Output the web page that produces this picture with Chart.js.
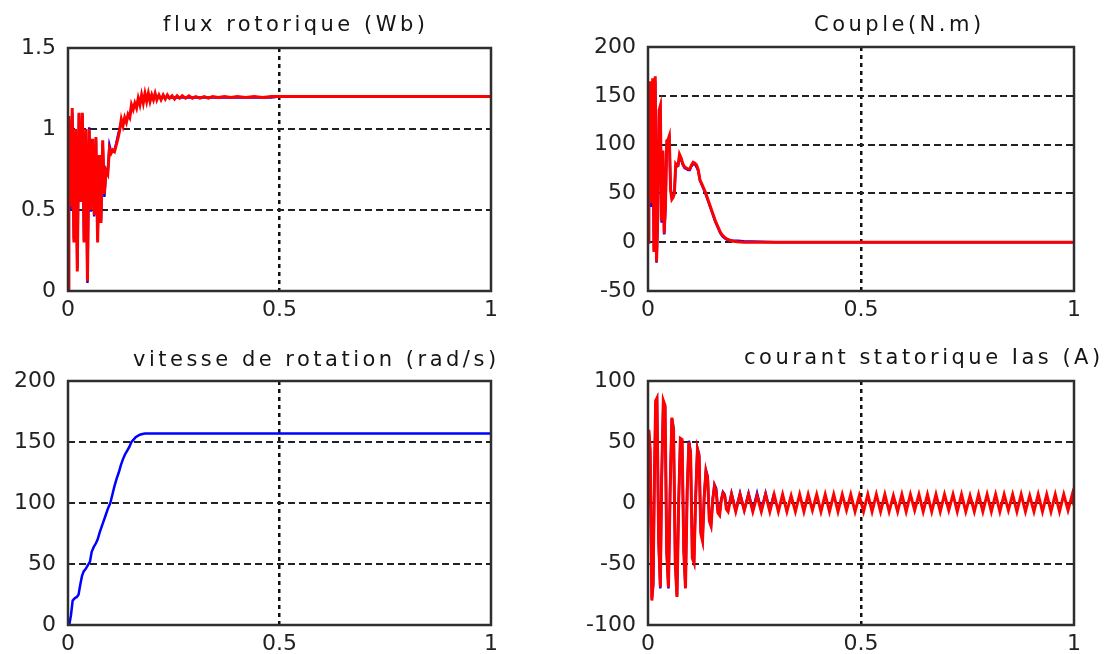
<!DOCTYPE html>
<html>
<head>
<meta charset="utf-8">
<script src="https://cdn.jsdelivr.net/npm/chart.js@4"></script>
<style>
  body { margin: 0; background: #fff; }
  #wrap { position: relative; width: 1111px; height: 654px; overflow: hidden; }
  canvas { position: absolute; }
</style>
</head>
<body>
<div id="wrap">
  <canvas id="fluxChart" width="560" height="327" style="left:0;top:0;width:560px;height:327px"></canvas>
  <canvas id="coupleChart" width="551" height="327" style="left:560px;top:0;width:551px;height:327px"></canvas>
  <canvas id="vitesseChart" width="560" height="327" style="left:0;top:327px;width:560px;height:327px"></canvas>
  <canvas id="courantChart" width="551" height="327" style="left:560px;top:327px;width:551px;height:327px"></canvas>
</div>
<script>
// ---- tick labels ----
const timeTicks = [0, 0.5, 1];
const fluxTicks = [0, 0.5, 1, 1.5];
const coupleTicks = [-50, 0, 50, 100, 150, 200];
const vitesseTicks = [0, 50, 100, 150, 200];
const courantTicks = [-100, -50, 0, 50, 100];

// ---- flux rotorique (Wb) ----
const tFlux = [0, 0.002, 0.006, 0.010, 0.014, 0.018, 0.022, 0.026, 0.030, 0.034,
  0.038, 0.042, 0.046, 0.050, 0.054, 0.058, 0.062, 0.066, 0.070, 0.074,
  0.078, 0.082, 0.086, 0.090, 0.094, 0.098,
  0.102, 0.106, 0.110, 0.114, 0.118, 0.122, 0.126, 0.130, 0.134, 0.138,
  0.142, 0.146, 0.150, 0.154, 0.158, 0.162, 0.166, 0.170, 0.174, 0.178,
  0.182, 0.186, 0.190, 0.194, 0.198, 0.202, 0.206, 0.210, 0.215, 0.220,
  0.225, 0.230, 0.235, 0.240, 0.246, 0.252, 0.258, 0.264, 0.270, 0.278,
  0.286, 0.294, 0.302, 0.312, 0.322, 0.332, 0.342, 0.355, 0.370, 0.385,
  0.400, 0.420, 0.440, 0.460, 0.480, 0.500, 1.000];
const fluxRed = [0, 1.08, 0.52, 1.13, 0.30, 1.00, 0.12, 1.10, 0.55, 1.10,
  0.30, 1.00, 0.06, 1.00, 0.50, 0.94, 0.47, 0.95, 0.30, 0.84,
  0.42, 0.93, 0.60, 0.74, 0.72, 0.88,
  0.85, 0.87, 0.86, 0.90, 0.94, 0.99, 1.06, 1.02, 1.07, 1.04,
  1.09, 1.07, 1.15, 1.12, 1.16, 1.13, 1.19, 1.15, 1.21, 1.16,
  1.22, 1.17, 1.22, 1.17, 1.21, 1.18, 1.22, 1.18, 1.21, 1.18,
  1.21, 1.185, 1.21, 1.19, 1.205, 1.185, 1.205, 1.19, 1.205, 1.19,
  1.205, 1.19, 1.2, 1.19, 1.2, 1.19, 1.2, 1.195, 1.2, 1.195,
  1.2, 1.195, 1.2, 1.195, 1.2, 1.2, 1.2];
const fluxBlue = [0, 1.06, 0.50, 1.10, 0.32, 0.98, 0.14, 1.09, 0.57, 1.08,
  0.31, 0.98, 0.05, 1.01, 0.49, 0.92, 0.46, 0.94, 0.32, 0.83,
  0.44, 0.91, 0.58, 0.75, 0.73, 0.90,
  0.86, 0.86, 0.87, 0.91, 0.96, 1.00, 1.04, 1.03, 1.06, 1.05,
  1.08, 1.08, 1.13, 1.13, 1.15, 1.14, 1.18, 1.16, 1.19, 1.17,
  1.20, 1.18, 1.20, 1.18, 1.20, 1.19, 1.20, 1.19, 1.20, 1.19,
  1.20, 1.19, 1.20, 1.19, 1.195, 1.195, 1.195, 1.195, 1.195, 1.195,
  1.195, 1.195, 1.195, 1.195, 1.195, 1.195, 1.195, 1.195, 1.195, 1.195,
  1.195, 1.195, 1.195, 1.195, 1.195, 1.2, 1.2];

// ---- Couple (N.m) ----
const tCouple = [0, 0.002, 0.005, 0.008, 0.011, 0.014, 0.017, 0.020, 0.023, 0.026,
  0.029, 0.032, 0.035, 0.038, 0.041, 0.044, 0.047, 0.050, 0.053, 0.056,
  0.059, 0.062, 0.065, 0.068, 0.071, 0.074, 0.078, 0.082, 0.086, 0.090,
  0.094, 0.098, 0.102, 0.106, 0.110, 0.114, 0.118, 0.122, 0.126, 0.130,
  0.134, 0.138, 0.142, 0.146, 0.150, 0.154, 0.158, 0.162, 0.166, 0.170,
  0.175, 0.180, 0.186, 0.192, 0.200, 0.210, 0.225, 0.300, 1.000];
const coupleRed = [0, 42, 165, 40, 168, -10, 170, -20, 28, 135,
  140, 22, 94, 9, 38, 104, 105, 109, 53, 44,
  46, 50, 80, 78, 80, 90, 86, 80, 77, 76,
  75, 75, 79, 82, 81, 79, 74, 64, 60, 56,
  52, 47, 42, 37, 32, 27, 22, 18, 14, 10,
  7, 5, 3, 2, 1, 0.5, 0, 0, 0];
const coupleBlue = [0, 38, 160, 36, 112, -8, 165, -21, 24, 130,
  136, 20, 92, 8, 35, 100, 103, 106, 56, 46,
  48, 52, 78, 80, 79, 88, 84, 79, 76, 75,
  74, 74, 78, 80, 80, 77, 73, 63, 59, 55,
  51, 46, 41, 36, 31, 26, 21, 17, 13, 9,
  6, 4, 2.5, 2, 1.5, 1.5, 1, 0, 0];

// ---- vitesse de rotation (rad/s) ----
const tVitesse = [0, 0.003, 0.007, 0.011, 0.016, 0.021, 0.025, 0.029, 0.033, 0.037,
  0.042, 0.047, 0.052, 0.056, 0.061, 0.066, 0.070, 0.075, 0.080, 0.085,
  0.090, 0.095, 0.100, 0.105, 0.110, 0.115, 0.120, 0.125, 0.130, 0.135,
  0.140, 0.145, 0.150, 0.155, 0.160, 0.165, 0.170, 0.176, 0.182, 0.188, 1.000];
const vitesseBlue = [0, 0, 8, 20, 22, 23, 25, 33, 40, 44,
  46, 49, 52, 60, 64, 67, 70, 76, 81, 86,
  91, 96, 100, 107, 114, 120, 125, 131, 136, 140,
  143, 146, 150, 152, 154, 155, 156, 156.6, 156.9, 157, 157];

// ---- courant statorique Ias (A) ----
const tCourant = [0.000, 0.002, 0.005, 0.009, 0.012,
  0.015, 0.018, 0.021, 0.025, 0.029,
  0.032, 0.036, 0.040, 0.044, 0.048,
  0.052, 0.056, 0.060, 0.064, 0.068,
  0.072, 0.076, 0.080, 0.084, 0.088,
  0.092, 0.096, 0.100, 0.104, 0.108,
  0.112, 0.116, 0.120, 0.124, 0.128,
  0.132, 0.136, 0.140, 0.144, 0.148,
  0.152, 0.156, 0.160, 0.164, 0.168,
  0.172, 0.176, 0.180, 0.184, 0.188,
  0.196, 0.206, 0.216, 0.226, 0.236, 0.246, 0.256, 0.266, 0.276, 0.286,
  0.296, 0.306, 0.316, 0.326, 0.336, 0.346, 0.356, 0.366, 0.376, 0.386,
  0.396, 0.406, 0.416, 0.426, 0.436, 0.446, 0.456, 0.466, 0.476, 0.486,
  0.496, 0.506, 0.516, 0.526, 0.536, 0.546, 0.556, 0.566, 0.576, 0.586,
  0.596, 0.606, 0.616, 0.626, 0.636, 0.646, 0.656, 0.666, 0.676, 0.686,
  0.696, 0.706, 0.716, 0.726, 0.736, 0.746, 0.756, 0.766, 0.776, 0.786,
  0.796, 0.806, 0.816, 0.826, 0.836, 0.846, 0.856, 0.866, 0.876, 0.886,
  0.896, 0.906, 0.916, 0.926, 0.936, 0.946, 0.956, 0.966, 0.976, 0.986,
  0.996, 1.000];
const courantRed = [0, 60, 44, -80, -66,
  20, 84, 86, -30, -69,
  20, 84, 80, -40, -69,
  10, 70, 60, -50, -77,
  0, 53, 52, -40, -70,
  10, 50, 40, -45, -49,
  5, 44, 38, -25, -31,
  5, 26, 20, -15, -19,
  2, 14, 10, -8, -10,
  2, 8, 6, -5, -7,
  7, -7, 7, -6, 7, -7, 6, -7, 7, -7,
  7, -7, 7, -7, 6, -7, 7, -7, 7, -6,
  7, -7, 7, -7, 7, -7, 7, -6, 7, -7,
  6, -7, 7, -7, 7, -7, 7, -7, 6, -7,
  7, -7, 7, -6, 7, -7, 7, -7, 7, -7,
  7, -6, 7, -7, 7, -7, 6, -7, 7, -7,
  7, -7, 7, -7, 7, -6, 7, -7, 7, -7,
  6, -7, 7, -7, 7, -7, 7, -7, 7, -6,
  7, -2];
const courantBlue = [0, 58, 42, -78, -68,
  18, 82, 85, -32, -70,
  18, 83, 79, -41, -70,
  12, 69, 61, -48, -76,
  2, 52, 51, -38, -69,
  12, 51, 42, -43, -48,
  7, 45, 40, -23, -30,
  7, 27, 22, -13, -18,
  4, 15, 12, -6, -9,
  3, 9, 7, -4, -6,
  8, -6, 8, -6, 8, -6, 8, -6, 8, -6, 8];

// ---- drawing ----
const titlePlugin = {
  id: 'plotTitle',
  afterDraw(chart, args, opts) {
    const ctx = chart.ctx;
    ctx.save();
    ctx.font = '21px "DejaVu Sans"';
    if ('letterSpacing' in ctx) ctx.letterSpacing = '3.5px';
    ctx.fillStyle = '#151515';
    ctx.textAlign = 'left';
    ctx.textBaseline = 'alphabetic';
    ctx.fillText(opts.text, opts.x, opts.y);
    ctx.restore();
  }
};

const framePlugin = {
  id: 'frame',
  afterDatasetsDraw(chart) {
    const a = chart.chartArea;
    const ctx = chart.ctx;
    ctx.save();
    ctx.strokeStyle = '#2e2e2e';
    ctx.lineWidth = 2.5;
    ctx.strokeRect(a.left, a.top, a.right - a.left, a.bottom - a.top);
    ctx.restore();
  }
};

function toPoints(xs, ys) {
  return ys.map((v, i) => ({ x: xs[i], y: v }));
}

function lineSet(color, points, width) {
  return {
    data: points,
    borderColor: color,
    borderWidth: width,
    pointRadius: 0,
    tension: 0,
    fill: false
  };
}

function makePlot(id, datasets, yTicks, box, title) {
  const yMin = yTicks[0];
  const yMax = yTicks[yTicks.length - 1];
  new Chart(document.getElementById(id), {
    type: 'line',
    data: { datasets: datasets },
    plugins: [titlePlugin, framePlugin],
    options: {
      responsive: false,
      animation: false,
      devicePixelRatio: 1,
      layout: { padding: box.padding },
      plugins: {
        legend: { display: false },
        tooltip: { enabled: false },
        plotTitle: title
      },
      scales: {
        x: {
          type: 'linear',
          min: 0,
          max: 1,
          afterBuildTicks: s => { s.ticks = timeTicks.map(v => ({ value: v })); },
          afterFit: s => { s.height = 28; },
          ticks: {
            callback: v => String(v),
            font: { family: 'DejaVu Sans', size: 22 },
            color: '#222',
            padding: 6,
            maxRotation: 0,
            autoSkip: false
          },
          grid: {
            drawTicks: false,
            lineWidth: 2.5,
            color: c => (c.tick && c.tick.value === 0.5) ? '#111' : 'rgba(0,0,0,0)'
          },
          border: { display: false, dash: [4, 4] }
        },
        y: {
          type: 'linear',
          min: yMin,
          max: yMax,
          afterBuildTicks: s => { s.ticks = yTicks.map(v => ({ value: v })); },
          afterFit: s => { s.width = box.yWidth; },
          ticks: {
            callback: v => String(v),
            font: { family: 'DejaVu Sans', size: 22 },
            color: '#222',
            padding: 12,
            autoSkip: false
          },
          grid: {
            drawTicks: false,
            lineWidth: 2,
            color: c => (c.tick && c.tick.value > yMin && c.tick.value < yMax) ? '#222' : 'rgba(0,0,0,0)'
          },
          border: { display: false, dash: [7, 4] }
        }
      }
    }
  });
}

makePlot('fluxChart',
  [lineSet('#ff0000', toPoints(tFlux, fluxRed), 3), lineSet('#0000ff', toPoints(tFlux, fluxBlue), 2.5)],
  fluxTicks,
  { yWidth: 60, padding: { left: 8, top: 48, right: 69, bottom: 8 } },
  { text: 'flux rotorique (Wb)', x: 163, y: 31 });

makePlot('coupleChart',
  [lineSet('#ff0000', toPoints(tCouple, coupleRed), 3), lineSet('#0000ff', toPoints(tCouple, coupleBlue), 2.5)],
  coupleTicks,
  { yWidth: 80, padding: { left: 8, top: 47, right: 37, bottom: 8 } },
  { text: 'Couple(N.m)', x: 254, y: 31 });

makePlot('vitesseChart',
  [lineSet('#0000ff', toPoints(tVitesse, vitesseBlue), 2.5)],
  vitesseTicks,
  { yWidth: 60, padding: { left: 8, top: 54, right: 69, bottom: 1 } },
  { text: 'vitesse de rotation (rad/s)', x: 133, y: 39 });

makePlot('courantChart',
  [lineSet('#ff0000', toPoints(tCourant, courantRed), 3), lineSet('#0000ff', toPoints(tCourant, courantBlue), 2.5)],
  courantTicks,
  { yWidth: 80, padding: { left: 8, top: 54, right: 37, bottom: 1 } },
  { text: 'courant statorique Ias (A)', x: 184, y: 37 });
</script>
</body>
</html>
